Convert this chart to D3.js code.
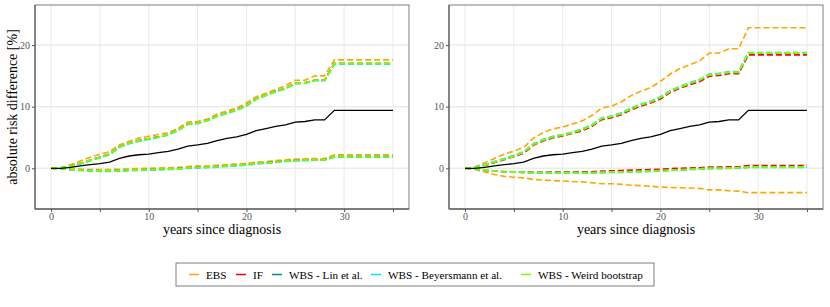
<!DOCTYPE html>
<html>
<head>
<meta charset="utf-8">
<script src="https://cdn.jsdelivr.net/npm/d3@7"></script>
<style>
  body { margin: 0; background: #fff; }
  svg text { font-family: 'Liberation Serif', 'DejaVu Serif', serif !important; }
</style>
</head>
<body>
<svg id="chart" width="830" height="307"></svg>
<script>
// years at which the curves are evaluated
const years = [0,1,2,3,4,5,6,7,8,9,10,11,12,13,14,15,16,17,18,19,20,21,22,23,24,25,26,27,28,29,35];

// point estimate (same in both panels)
const estimate = [0,0,0.15,0.4,0.6,0.75,1.0,1.6,2.0,2.2,2.3,2.55,2.75,3.1,3.6,3.8,4.05,4.5,4.85,5.1,5.5,6.1,6.45,6.8,7.05,7.5,7.6,7.85,7.85,9.4,9.4];

const methods = ["EBS", "IF", "WBS - Lin et al.", "WBS - Beyersmann et al.", "WBS - Weird bootstrap"];
const methodColors = ["#FFA500", "#FF0000", "#008B8B", "#00E5EE", "#7CFC00"];

// left panel bounds
const leftUpperEBS = [0,0.1,0.6,1.2,1.8,2.3,2.7,3.8,4.4,4.9,5.2,5.5,5.8,6.5,7.5,7.6,8.0,8.8,9.3,9.8,10.6,11.6,12.2,12.8,13.4,14.3,14.3,15.0,15.0,17.6,17.6];
const leftUpperIF  = [0,0.05,0.35,0.8,1.3,1.8,2.3,3.5,4.1,4.5,4.8,5.1,5.5,6.2,7.2,7.35,7.8,8.5,9.0,9.5,10.2,11.3,11.9,12.5,13.0,13.8,13.9,14.3,14.3,17.0,17.0];
const leftUpperLin = [0,0.05,0.35,0.8,1.3,1.8,2.3,3.5,4.1,4.5,4.8,5.1,5.5,6.2,7.2,7.35,7.8,8.5,9.0,9.5,10.2,11.3,11.9,12.5,13.0,13.8,13.85,14.3,14.3,17.0,17.0];
const leftUpperBey = [0,0.05,0.3,0.7,1.2,1.7,2.2,3.4,4.0,4.4,4.7,5.0,5.4,6.1,7.1,7.25,7.7,8.4,8.9,9.4,10.1,11.2,11.8,12.4,12.9,13.7,13.8,14.2,14.2,16.9,16.9];
const leftUpperWeird = [0,0.05,0.35,0.8,1.3,1.8,2.3,3.5,4.1,4.5,4.8,5.1,5.5,6.2,7.2,7.35,7.8,8.5,9.0,9.5,10.2,11.3,11.9,12.5,13.0,13.8,13.85,14.3,14.3,17.0,17.0];
const leftLowerEBS = [0,0,-0.1,-0.15,-0.2,-0.2,-0.2,-0.15,-0.1,-0.05,0,0.05,0.1,0.15,0.3,0.35,0.4,0.5,0.6,0.7,0.8,1.0,1.1,1.25,1.4,1.5,1.55,1.6,1.6,2.2,2.2];
const leftLowerIF  = [0,-0.05,-0.2,-0.3,-0.35,-0.4,-0.4,-0.35,-0.3,-0.25,-0.2,-0.15,-0.1,-0.05,0.1,0.15,0.2,0.3,0.4,0.5,0.6,0.8,0.9,1.05,1.2,1.3,1.35,1.4,1.4,1.9,1.9];
const leftLowerLin = [0,-0.05,-0.2,-0.3,-0.35,-0.4,-0.4,-0.35,-0.3,-0.25,-0.2,-0.15,-0.1,-0.05,0.1,0.15,0.2,0.3,0.4,0.5,0.6,0.8,0.9,1.05,1.2,1.3,1.35,1.4,1.4,1.9,1.9];
const leftLowerBey = [0,-0.05,-0.25,-0.35,-0.45,-0.5,-0.5,-0.45,-0.4,-0.35,-0.3,-0.25,-0.2,-0.15,0,0.05,0.1,0.2,0.3,0.4,0.5,0.7,0.8,0.95,1.1,1.2,1.25,1.3,1.3,1.8,1.8];
const leftLowerWeird = [0,-0.05,-0.2,-0.3,-0.35,-0.4,-0.4,-0.35,-0.3,-0.25,-0.2,-0.15,-0.1,-0.05,0.1,0.15,0.2,0.3,0.4,0.5,0.6,0.8,0.9,1.05,1.2,1.3,1.35,1.4,1.4,1.9,1.9];

// right panel bounds
const rightUpperEBS = [0,0.2,0.9,1.6,2.3,2.8,3.4,4.9,5.8,6.4,6.7,7.2,7.7,8.6,9.8,10.1,10.8,11.8,12.5,13.1,14.1,15.3,16.2,16.8,17.4,18.7,18.7,19.4,19.4,22.8,22.8];
const rightUpperIF  = [0,0.1,0.45,0.9,1.4,1.9,2.45,3.75,4.45,4.95,5.25,5.65,6.1,6.8,7.9,8.2,8.7,9.5,10.1,10.6,11.25,12.3,13.0,13.55,14.05,14.95,15.05,15.35,15.35,18.4,18.4];
const rightUpperLin = [0,0.1,0.5,1.0,1.5,2.0,2.6,3.9,4.6,5.1,5.4,5.8,6.3,7.0,8.1,8.4,8.9,9.7,10.3,10.8,11.5,12.5,13.2,13.8,14.3,15.2,15.3,15.6,15.6,18.7,18.7];
const rightUpperBey = [0,0.1,0.6,1.1,1.6,2.1,2.7,4.0,4.7,5.2,5.5,5.9,6.4,7.1,8.2,8.5,9.0,9.8,10.4,10.9,11.6,12.6,13.3,13.9,14.4,15.3,15.4,15.7,15.7,18.8,18.8];
const rightUpperWeird = [0,0.1,0.5,1.0,1.5,2.0,2.6,3.9,4.6,5.1,5.4,5.8,6.3,7.0,8.1,8.4,8.9,9.7,10.3,10.8,11.5,12.5,13.2,13.8,14.3,15.2,15.3,15.6,15.6,18.7,18.7];
const rightLowerEBS = [0,-0.2,-0.6,-1.0,-1.3,-1.45,-1.55,-1.8,-1.9,-2.0,-2.05,-2.15,-2.2,-2.35,-2.5,-2.5,-2.6,-2.75,-2.8,-2.9,-3.05,-3.1,-3.15,-3.2,-3.25,-3.5,-3.5,-3.65,-3.7,-3.95,-3.95];
const rightLowerIF  = [0,-0.1,-0.3,-0.45,-0.55,-0.6,-0.6,-0.65,-0.65,-0.6,-0.6,-0.6,-0.55,-0.55,-0.45,-0.4,-0.35,-0.3,-0.25,-0.2,-0.15,-0.05,0,0.05,0.1,0.2,0.2,0.25,0.25,0.45,0.45];
const rightLowerLin = [0,-0.1,-0.3,-0.45,-0.55,-0.6,-0.65,-0.7,-0.7,-0.7,-0.7,-0.7,-0.7,-0.7,-0.65,-0.6,-0.6,-0.55,-0.5,-0.45,-0.4,-0.3,-0.25,-0.15,-0.1,0,0,0.05,0.1,0.2,0.2];
const rightLowerBey = [0,-0.1,-0.3,-0.45,-0.55,-0.6,-0.65,-0.75,-0.75,-0.75,-0.75,-0.75,-0.75,-0.75,-0.7,-0.65,-0.65,-0.6,-0.55,-0.5,-0.45,-0.35,-0.3,-0.2,-0.15,-0.05,-0.05,0,0.05,0.15,0.15];
const rightLowerWeird = [0,-0.1,-0.3,-0.45,-0.55,-0.6,-0.65,-0.7,-0.7,-0.7,-0.7,-0.7,-0.7,-0.7,-0.65,-0.6,-0.6,-0.55,-0.5,-0.45,-0.4,-0.3,-0.25,-0.15,-0.1,0,0,0.05,0.1,0.2,0.2];

const xTicks = [0, 10, 20, 30];
const xGrid = [0, 5, 10, 15, 20, 25, 30, 35];
const yTicks = [0, 10, 20];

const panels = [
  { left: 35, yTitle: "absolute risk difference [%]",
    upper: [leftUpperEBS, leftUpperIF, leftUpperLin, leftUpperBey, leftUpperWeird],
    lower: [leftLowerEBS, leftLowerIF, leftLowerLin, leftLowerBey, leftLowerWeird] },
  { left: 449, yTitle: null,
    upper: [rightUpperEBS, rightUpperIF, rightUpperLin, rightUpperBey, rightUpperWeird],
    lower: [rightLowerEBS, rightLowerIF, rightLowerLin, rightLowerBey, rightLowerWeird] }
];

const svg = d3.select("#chart");
const pw = 374, plotTop = 5, plotBottom = 209;

const y = d3.scaleLinear().domain([-6.6, 26.5]).range([plotBottom, plotTop]);

panels.forEach(p => {
  const x = d3.scaleLinear().domain([-1.64, 36.64]).range([p.left, p.left + pw]);
  const g = svg.append("g");

  // grid
  g.selectAll(".vg").data(xGrid).enter().append("line")
    .attr("x1", d => x(d)).attr("x2", d => x(d))
    .attr("y1", plotTop).attr("y2", plotBottom)
    .attr("stroke", "#e3e3e3").attr("stroke-width", 0.8);
  g.selectAll(".hg").data(yTicks).enter().append("line")
    .attr("x1", p.left).attr("x2", p.left + pw)
    .attr("y1", d => y(d)).attr("y2", d => y(d))
    .attr("stroke", "#ebebeb").attr("stroke-width", 1.4);

  // bounds, drawn method by method (later ones sit on top)
  const line = d3.line().x((d, i) => x(years[i])).y(d => y(d));
  methods.forEach((m, k) => {
    [p.upper[k], p.lower[k]].forEach(arr => {
      g.append("path").datum(arr)
        .attr("d", line)
        .attr("fill", "none")
        .attr("stroke", methodColors[k])
        .attr("stroke-width", k === 4 ? 2 : 1.6)
        .attr("stroke-dasharray", "6,3");
    });
  });

  // point estimate
  g.append("path").datum(estimate)
    .attr("d", line)
    .attr("fill", "none")
    .attr("stroke", "#000")
    .attr("stroke-width", 1.3);

  // border
  g.append("rect")
    .attr("x", p.left).attr("y", plotTop)
    .attr("width", pw).attr("height", plotBottom - plotTop)
    .attr("fill", "none").attr("stroke", "#7f7f7f").attr("stroke-width", 1);

  // axes
  const xAxis = d3.axisBottom(x).tickValues(xGrid).tickSize(3).tickPadding(1)
    .tickFormat(d => xTicks.includes(d) ? d : "");
  const gx = g.append("g").attr("transform", `translate(0,${plotBottom})`).call(xAxis);
  gx.select(".domain").attr("stroke", "#666").attr("stroke-width", 1.3)
    .attr("d", `M${p.left},0H${p.left + pw}`);
  gx.selectAll(".tick line").attr("stroke", "#555");
  gx.selectAll("text").attr("fill", "#555").attr("font-size", 10);

  const yAxis = d3.axisLeft(y).tickValues(yTicks).tickSize(3).tickPadding(2);
  const gy = g.append("g").attr("transform", `translate(${p.left},0)`).call(yAxis);
  gy.select(".domain").attr("stroke", "#666").attr("stroke-width", 1.3)
    .attr("d", `M0,${plotTop}V${plotBottom}`);
  gy.selectAll(".tick line").attr("stroke", "#555");
  gy.selectAll("text").attr("fill", "#555").attr("font-size", 10);

  g.append("text")
    .attr("x", p.left + pw / 2).attr("y", 234)
    .attr("text-anchor", "middle").attr("font-size", 14)
    .text("years since diagnosis");

  if (p.yTitle) {
    g.append("text")
      .attr("transform", `translate(17,${(plotTop + plotBottom) / 2}) rotate(-90)`)
      .attr("text-anchor", "middle").attr("font-size", 14)
      .text(p.yTitle);
  }
});

// legend
const legend = svg.append("g");
legend.append("rect")
  .attr("x", 176).attr("y", 263).attr("width", 478).attr("height", 23)
  .attr("fill", "#fff").attr("stroke", "#7f7f7f").attr("stroke-width", 1);

const keyX = [189, 236, 272, 371, 521];
methods.forEach((m, k) => {
  legend.append("line")
    .attr("x1", keyX[k]).attr("x2", keyX[k] + 10)
    .attr("y1", 274.5).attr("y2", 274.5)
    .attr("stroke", methodColors[k]).attr("stroke-width", 1.5);
  legend.append("text")
    .attr("x", keyX[k] + 17).attr("y", 278.5)
    .attr("font-size", 11.2)
    .text(m);
});
</script>
</body>
</html>
